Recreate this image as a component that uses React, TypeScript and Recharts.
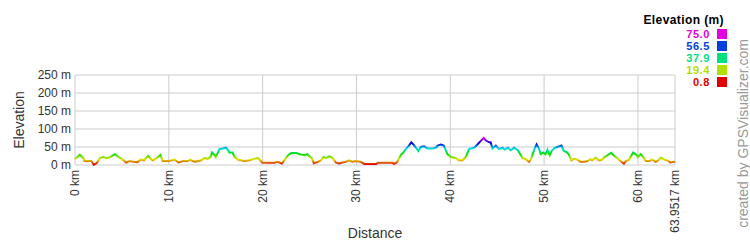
import React from 'react';
import { LineChart, Line, XAxis, YAxis, CartesianGrid } from 'recharts';

const distanceKm = [
  0, 0.5, 0.9, 1.0, 1.75, 2.0, 2.3, 2.65, 3.0, 3.4, 3.75, 4.25, 4.6, 4.95, 5.2, 5.45, 5.8, 6.3, 6.65, 7.0,
  7.35, 7.8, 8.1, 8.3, 8.7, 9.1, 9.25, 9.35, 10.05, 10.6, 11.05, 11.5, 12.0, 12.3, 12.55, 12.8, 13.45, 13.8, 14.15, 14.45,
  14.6, 14.85, 15.0, 15.4, 15.75, 16.1, 16.3, 16.45, 16.8, 17.0, 17.35, 17.7, 18.05, 18.6, 19.1, 19.5, 19.75, 19.95, 20.55, 21.25,
  21.55, 21.8, 22.05, 22.3, 22.5, 22.75, 23.05, 23.6, 23.95, 24.5, 24.75, 25.0, 25.25, 25.45, 25.9, 26.2, 26.5, 26.75, 27.1, 27.35,
  27.6, 27.8, 28.15, 28.5, 28.85, 29.2, 29.55, 29.9, 30.45, 30.85, 31.55, 32.1, 32.25, 32.8, 33.85, 34.0, 34.3, 34.55, 34.75, 35.0,
  35.25, 35.6, 35.85, 36.1, 36.45, 36.6, 36.85, 37.2, 37.55, 38.1, 38.45, 38.65, 39.0, 39.3, 39.5, 39.7, 40.05, 40.6, 40.95, 41.3,
  41.65, 42.0, 42.55, 42.9, 43.25, 43.55, 43.8, 44.15, 44.3, 44.5, 44.85, 45.2, 45.55, 45.8, 46.15, 46.45, 46.8, 47.2, 47.5, 47.7,
  48.05, 48.4, 48.6, 48.75, 49.0, 49.2, 49.45, 49.65, 49.9, 50.15, 50.35, 50.6, 50.8, 51.05, 51.2, 51.85, 52.1, 52.45, 52.65, 52.9,
  53.2, 53.55, 53.9, 54.25, 54.6, 54.95, 55.1, 55.5, 55.85, 56.2, 56.45, 56.75, 57.15, 57.4, 57.8, 58.15, 58.5, 58.7, 59.05, 59.5,
  59.85, 60.0, 60.3, 60.5, 60.85, 61.2, 61.55, 61.9, 62.15, 62.45, 62.8, 63.15, 63.45, 63.8, 63.9517,
];

const elevationM = [
  16, 28, 19, 11, 11, 0.8, 5, 19, 22, 19, 22, 30, 23, 17, 13, 7, 11, 9, 8, 15,
  13, 25, 16, 13, 19, 28, 17, 11, 11, 15, 7, 11, 11, 15, 11, 9, 13, 19, 17, 22,
  35, 28, 22, 44, 46, 48, 42, 35, 35, 22, 15, 13, 11, 13, 17, 19, 13, 7, 6, 6,
  9, 7, 4, 13, 20, 28, 33, 33, 30, 27, 30, 23, 19, 5, 9, 13, 22, 19, 24, 21,
  15, 7, 4, 7, 9, 13, 9, 11, 9, 3, 3, 3, 6, 6, 6, 3, 7, 19, 28, 35,
  44, 54, 63, 56, 44, 39, 50, 52, 46, 46, 48, 54, 57, 54, 42, 30, 22, 19, 13, 13,
  22, 44, 48, 57, 67, 75, 68, 63, 63, 46, 54, 44, 48, 43, 48, 41, 48, 41, 28, 19,
  16, 9, 16, 28, 46, 57, 46, 30, 35, 30, 42, 27, 39, 46, 48, 54, 39, 35, 28, 13,
  17, 15, 9, 9, 11, 16, 13, 20, 13, 15, 22, 27, 34, 27, 19, 11, 4, 11, 15, 35,
  28, 22, 30, 24, 11, 11, 15, 9, 13, 20, 15, 13, 7, 9, 9,
];

const xTicks = [0, 10, 20, 30, 40, 50, 60, 63.9517];
const yTicks = [0, 50, 100, 150, 200, 250];
const legendValues = ['75.0', '56.5', '37.9', '19.4', '0.8'];
const legendColors = ['#e000e0', '#0040e0', '#00e080', '#b0e000', '#e00000'];

const data = distanceKm.map((d, i) => ({ d, e: elevationM[i] }));

const FONT = '"Liberation Sans", Arial, sans-serif';

const gradientStops = Array.from({ length: 11 }, (_, i) => {
  const offset = i / 10;
  const hue = 300 * (1 - offset);
  return { offset, color: `hsl(${hue}, 100%, 44%)` };
});

const XTick = (props: any) => {
  const { x, y, payload } = props;
  return (
    <g transform={`translate(${x + 4},${y})`}>
      <text transform="rotate(-90)" textAnchor="end" fontSize={12} fill="#333" fontFamily={FONT}>
        {`${payload.value} km`}
      </text>
    </g>
  );
};

const YTick = (props: any) => {
  const { x, y, payload } = props;
  return (
    <text x={x} y={y} dy={4} textAnchor="end" fontSize={12} fill="#333" fontFamily={FONT}>
      {`${payload.value} m`}
    </text>
  );
};

export default function App() {
  return (
    <div style={{ position: 'absolute', left: 0, top: 0, width: 750, height: 240, background: '#fff' }}>
      <LineChart
        width={750}
        height={240}
        data={data}
        margin={{ top: 75, right: 75, bottom: 5, left: 15 }}
      >
        <defs>
          <linearGradient id="elevGrad" x1="0" y1="0" x2="0" y2="1">
            {gradientStops.map((s) => (
              <stop key={s.offset} offset={s.offset} stopColor={s.color} />
            ))}
          </linearGradient>
        </defs>
        <CartesianGrid stroke="#cccccc" strokeWidth={1} />
        <XAxis
          dataKey="d"
          type="number"
          domain={[0, 63.9517]}
          ticks={xTicks}
          interval={0}
          axisLine={false}
          tickLine={false}
          tickSize={0}
          tickMargin={5}
          height={70}
          tick={<XTick />}
        />
        <YAxis
          type="number"
          domain={[0, 250]}
          ticks={yTicks}
          interval={0}
          axisLine={false}
          tickLine={false}
          tickSize={0}
          tickMargin={4}
          width={60}
          tick={<YTick />}
        />
        <Line
          type="linear"
          dataKey="e"
          stroke="url(#elevGrad)"
          strokeWidth={2}
          dot={false}
          isAnimationActive={false}
        />
      </LineChart>
      <svg
        width={750}
        height={240}
        style={{ position: 'absolute', left: 0, top: 0, pointerEvents: 'none' }}
      >
        <text transform="translate(24,120) rotate(-90)" textAnchor="middle" fontSize={14} fill="#333" fontFamily={FONT}>
          Elevation
        </text>
        <text x={375} y={238} textAnchor="middle" fontSize={14} fill="#333" fontFamily={FONT}>
          Distance
        </text>
        <text x={724} y={24} textAnchor="end" fontSize={12} fontWeight="bold" letterSpacing={0.4} fill="#000" fontFamily={FONT}>
          Elevation (m)
        </text>
        {legendValues.map((v, i) => (
          <g key={v}>
            <text x={710} y={38 + i * 12} textAnchor="end" fontSize={11} fontWeight="bold" letterSpacing={0.6} fill={legendColors[i]} fontFamily={FONT}>
              {v}
            </text>
            <rect x={717} y={29 + i * 12} width={10} height={10} fill={legendColors[i]} />
          </g>
        ))}
        <text transform="translate(748,39) rotate(-90)" textAnchor="end" fontSize={14} fill="#999" fontFamily={FONT}>
          created by GPSVisualizer.com
        </text>
      </svg>
    </div>
  );
}
